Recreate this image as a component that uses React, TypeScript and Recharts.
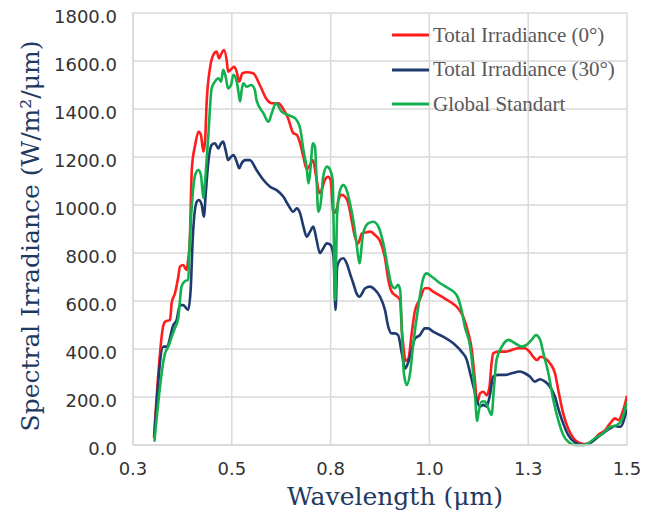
import React from 'react';
import { LineChart, Line, XAxis, YAxis, CartesianGrid, Legend } from 'recharts';

const seriesNames = ['Total Irradiance (0°)', 'Total Irradiance (30°)', 'Global Standart'];
const seriesColors = ['#ff1c1c', '#1f3a6e', '#12b04e'];

const xTicks = [0.3, 0.54, 0.78, 1.02, 1.26, 1.5];
const yTicks = [0, 200, 400, 600, 800, 1000, 1200, 1400, 1600, 1800];

const redX = [0.351,0.374,0.378,0.390,0.394,0.402,0.410,0.414,0.422,0.430,0.434,0.438,0.443,0.451,0.459,0.465,0.471,0.475,0.479,0.487,0.495,0.503,0.509,0.515,0.521,0.528,0.531,0.540,0.546,0.552,0.558,0.566,0.576,0.592,0.608,0.625,0.637,0.653,0.665,0.677,0.689,0.698,0.706,0.714,0.722,0.730,0.737,0.745,0.753,0.758,0.766,0.774,0.780,0.787,0.796,0.799,0.807,0.815,0.823,0.831,0.839,0.847,0.856,0.864,0.876,0.888,0.900,0.912,0.920,0.928,0.936,0.944,0.949,0.953,0.957,0.962,0.969,0.977,0.985,0.997,1.009,1.017,1.029,1.050,1.070,1.090,1.102,1.114,1.123,1.131,1.136,1.143,1.151,1.159,1.166,1.171,1.175,1.187,1.204,1.220,1.236,1.252,1.263,1.272,1.281,1.290,1.301,1.313,1.325,1.333,1.345,1.357,1.370,1.386,1.398,1.414,1.430,1.447,1.459,1.471,1.479,1.491,1.500];
const redY = [30,500,514,521,592,633,701,743,750,729,770,854,1153,1250,1305,1292,1222,1264,1430,1570,1625,1639,1611,1632,1646,1597,1555,1569,1576,1555,1514,1549,1553,1549,1500,1440,1424,1424,1400,1360,1300,1292,1257,1200,1150,1167,1187,1118,1049,1062,1104,1118,1104,965,990,1021,1042,1035,1007,938,868,840,882,885,889,875,850,780,690,640,625,615,600,480,410,350,361,465,560,608,653,653,639,618,597,569,535,470,396,260,174,215,222,208,243,340,382,389,389,396,403,403,389,368,354,368,361,340,299,229,132,69,28,7,4,14,42,62,90,111,104,146,205];

const navyX = [0.352,0.374,0.382,0.398,0.406,0.414,0.422,0.434,0.440,0.446,0.455,0.460,0.467,0.472,0.477,0.483,0.491,0.499,0.507,0.514,0.519,0.525,0.531,0.538,0.544,0.552,0.558,0.564,0.572,0.584,0.600,0.617,0.633,0.649,0.665,0.677,0.689,0.698,0.706,0.714,0.722,0.730,0.738,0.746,0.754,0.762,0.771,0.780,0.787,0.792,0.796,0.803,0.811,0.819,0.827,0.835,0.843,0.850,0.864,0.876,0.888,0.900,0.912,0.920,0.928,0.936,0.944,0.953,0.961,0.969,0.977,0.985,0.997,1.009,1.017,1.029,1.054,1.078,1.098,1.111,1.119,1.127,1.135,1.143,1.151,1.159,1.167,1.175,1.187,1.204,1.220,1.240,1.252,1.264,1.276,1.289,1.301,1.313,1.325,1.333,1.345,1.357,1.374,1.394,1.410,1.426,1.442,1.459,1.471,1.483,1.500];
const navyY = [42,410,410,500,521,583,583,563,646,889,1014,1021,1000,951,1055,1180,1250,1257,1236,1257,1264,1229,1187,1201,1208,1180,1153,1174,1187,1187,1146,1104,1076,1062,1035,1000,972,986,965,910,868,889,910,854,799,819,840,833,785,563,743,771,778,757,715,674,632,618,653,660,646,618,563,493,465,465,458,382,319,347,396,444,458,486,486,472,451,424,389,354,299,243,188,160,167,160,208,285,292,292,299,306,299,285,264,274,264,243,201,153,90,42,10,0,7,28,49,69,79,76,150];

const greenX = [0.352,0.378,0.386,0.394,0.402,0.410,0.418,0.426,0.434,0.438,0.443,0.451,0.459,0.465,0.471,0.475,0.483,0.491,0.499,0.507,0.514,0.519,0.525,0.531,0.538,0.544,0.552,0.556,0.560,0.564,0.568,0.576,0.587,0.596,0.600,0.617,0.629,0.637,0.647,0.661,0.677,0.694,0.706,0.714,0.722,0.726,0.730,0.737,0.742,0.746,0.750,0.756,0.762,0.771,0.779,0.785,0.791,0.796,0.803,0.811,0.819,0.827,0.835,0.843,0.850,0.859,0.872,0.884,0.896,0.908,0.920,0.928,0.936,0.944,0.949,0.953,0.958,0.965,0.973,0.981,0.993,1.005,1.013,1.026,1.046,1.066,1.086,1.098,1.106,1.119,1.127,1.131,1.136,1.139,1.147,1.155,1.163,1.171,1.177,1.183,1.196,1.212,1.228,1.244,1.256,1.268,1.279,1.289,1.297,1.309,1.321,1.333,1.345,1.357,1.374,1.390,1.406,1.422,1.442,1.459,1.475,1.487,1.500];
const greenY = [14,383,410,451,488,529,661,682,688,854,1000,1125,1146,1125,1028,1097,1291,1486,1514,1528,1514,1563,1535,1486,1500,1542,1514,1472,1431,1479,1507,1493,1500,1479,1437,1382,1347,1382,1424,1389,1375,1361,1319,1229,1153,1090,1132,1257,1243,1104,972,1007,1118,1160,1146,1104,604,965,1062,1083,1062,1007,938,840,757,882,924,930,910,840,729,667,653,667,646,479,299,250,299,424,576,694,715,701,674,653,625,563,493,410,285,200,100,132,181,181,153,125,243,354,410,438,424,410,417,438,458,438,382,299,188,104,42,14,0,0,7,28,49,76,83,104,180];

const toPoints = (xs: number[], ys: number[]) => xs.map((x, i) => ({ x, y: ys[i] }));
const seriesData = [toPoints(redX, redY), toPoints(navyX, navyY), toPoints(greenX, greenY)];

const GRID = '#d9d9d9';
const TITLE_COLOR = '#1f3a5f';
const TICK_COLOR = '#333333';

const YTick = (props: any) => {
  const { x, y, payload } = props;
  return (
    <text x={x} y={y} dy={10} textAnchor="end" fill={TICK_COLOR} fontFamily="DejaVu Sans" fontSize={18}>
      {Number(payload.value).toFixed(1)}
    </text>
  );
};

const XTick = (props: any) => {
  const { x, y, payload } = props;
  return (
    <text x={x} y={y} dy={28} textAnchor="middle" fill={TICK_COLOR} fontFamily="DejaVu Sans" fontSize={18}>
      {Number(payload.value).toFixed(1)}
    </text>
  );
};

const YTitle = (props: any) => {
  const vb = props.viewBox;
  const cx = 39;
  const cy = vb.y + vb.height / 2 + 7;
  return (
    <text x={cx} y={cy} transform={`rotate(-90 ${cx} ${cy})`} textAnchor="middle" fill={TITLE_COLOR} fontFamily="DejaVu Serif" fontSize={25}>
      Spectral Irradiance (W/m²/μm)
    </text>
  );
};

const XTitle = (props: any) => {
  const vb = props.viewBox;
  const cx = vb.x + vb.width / 2 + 15;
  const cy = vb.y + 60;
  return (
    <text x={cx} y={cy} textAnchor="middle" fill={TITLE_COLOR} fontFamily="DejaVu Serif" fontSize={25}>
      Wavelength (μm)
    </text>
  );
};

const renderLegend = () => (
  <div style={{ display: 'flex', flexDirection: 'column' }}>
    {seriesNames.map((name, i) => (
      <div key={name} style={{ display: 'flex', alignItems: 'center', height: 34.5 }}>
        <svg width={37} height={4} style={{ display: 'block' }}>
          <line x1={0} y1={2} x2={37} y2={2} stroke={seriesColors[i]} strokeWidth={3} />
        </svg>
        <span style={{ marginLeft: 4, fontFamily: 'Liberation Serif', fontSize: 21, lineHeight: '21px', color: '#595959', whiteSpace: 'nowrap' }}>
          {name}
        </span>
      </div>
    ))}
  </div>
);

export default function App() {
  return (
    <div style={{ position: 'absolute', left: 0, top: 0, width: 654, height: 513, background: '#fff' }}>
      <LineChart width={654} height={513} margin={{ top: 13, right: 27, bottom: 38, left: 0 }}>
        <CartesianGrid stroke={GRID} strokeWidth={1.5} />
        <XAxis
          dataKey="x"
          type="number"
          domain={[0.3, 1.5]}
          ticks={xTicks}
          allowDataOverflow
          height={30}
          tickSize={0}
          tickLine={false}
          axisLine={{ stroke: GRID, strokeWidth: 1.5 }}
          tick={<XTick />}
          interval={0}
          label={<XTitle />}
        />
        <YAxis
          type="number"
          domain={[0, 1800]}
          ticks={yTicks}
          width={133}
          tickSize={0}
          tickMargin={16}
          tickLine={false}
          axisLine={{ stroke: GRID, strokeWidth: 1.5 }}
          tick={<YTick />}
          interval={0}
          label={<YTitle />}
        />
        <Legend
          content={renderLegend}
          layout="horizontal"
          verticalAlign="middle"
          align="center"
          wrapperStyle={{ left: 392, top: 18, width: 250 }}
        />
        {seriesData.map((d, i) => (
          <Line
            key={seriesNames[i]}
            data={d}
            dataKey="y"
            name={seriesNames[i]}
            type="monotone"
            stroke={seriesColors[i]}
            strokeWidth={2.6}
            dot={false}
            activeDot={false}
            isAnimationActive={false}
          />
        ))}
      </LineChart>
    </div>
  );
}
